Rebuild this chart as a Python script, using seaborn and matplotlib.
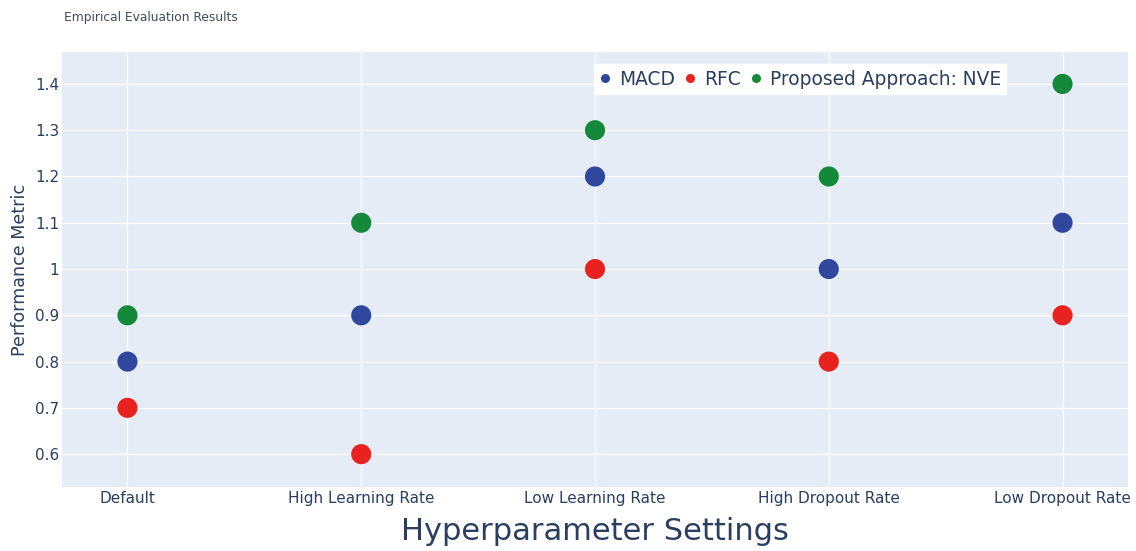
import numpy as np
import pandas as pd
import matplotlib.pyplot as plt
import seaborn as sns

# data
settings = ['Default', 'High Learning Rate', 'Low Learning Rate',
            'High Dropout Rate', 'Low Dropout Rate']
macd = [0.8, 0.9, 1.2, 1.0, 1.1]
rfc = [0.7, 0.6, 1.0, 0.8, 0.9]
nve = [0.9, 1.1, 1.3, 1.2, 1.4]
methods = ['MACD', 'RFC', 'Proposed Approach: NVE']
colors = ['#2f479c', '#e8231f', '#14893a']

df = pd.DataFrame({
    'Hyperparameter Settings': settings * 3,
    'Performance Metric': macd + rfc + nve,
    'Method': np.repeat(methods, len(settings)),
})

sns.set_theme(style='darkgrid', rc={
    'axes.facecolor': '#e5ecf6',
    'grid.color': 'white',
    'grid.linewidth': 0.9,
})
plt.rcParams['font.family'] = ['DejaVu Sans']
text_col = '#2a3f5f'

fig = plt.figure(figsize=(11.36, 5.51), dpi=100)
ax = fig.add_axes([62 / 1136, 64 / 551, 1066 / 1136, 435 / 551])

sns.scatterplot(data=df, x='Hyperparameter Settings', y='Performance Metric',
                hue='Method', palette=colors, s=210, linewidth=0, ax=ax)

ax.set_xlim(-0.28, 4.28)
ax.set_ylim(0.529, 1.469)
ax.set_yticks([0.6, 0.7, 0.8, 0.9, 1.0, 1.1, 1.2, 1.3, 1.4])
ax.set_yticklabels(['0.6', '0.7', '0.8', '0.9', '1', '1.1', '1.2', '1.3', '1.4'])
ax.tick_params(axis='both', labelsize=11, colors=text_col, length=0)
ax.tick_params(axis='x', pad=3)
ax.tick_params(axis='y', pad=2)
for sp in ax.spines.values():
    sp.set_visible(False)

ax.set_xlabel('Hyperparameter Settings', fontsize=22, color=text_col, labelpad=8)
ax.set_ylabel('Performance Metric', fontsize=12.6, color=text_col, labelpad=4)

leg = ax.legend(loc='upper left', bbox_to_anchor=(0.499, 0.972), ncol=3,
                frameon=True, fontsize=13.4, handlelength=0.6,
                handletextpad=0.45, columnspacing=0.5, markerscale=0.45,
                borderpad=0.3, borderaxespad=0)
leg.get_frame().set_facecolor('white')
leg.get_frame().set_edgecolor('white')
leg.get_frame().set_alpha(1)
leg.get_frame().set_boxstyle('square', pad=0)
for t in leg.get_texts():
    t.set_color(text_col)

fig.text(64 / 1136, 1 - 17 / 551, 'Empirical Evaluation Results',
         fontsize=8.8, color='#444a5a', va='center', ha='left')

fig.savefig('out.png', dpi=100, facecolor='white')
